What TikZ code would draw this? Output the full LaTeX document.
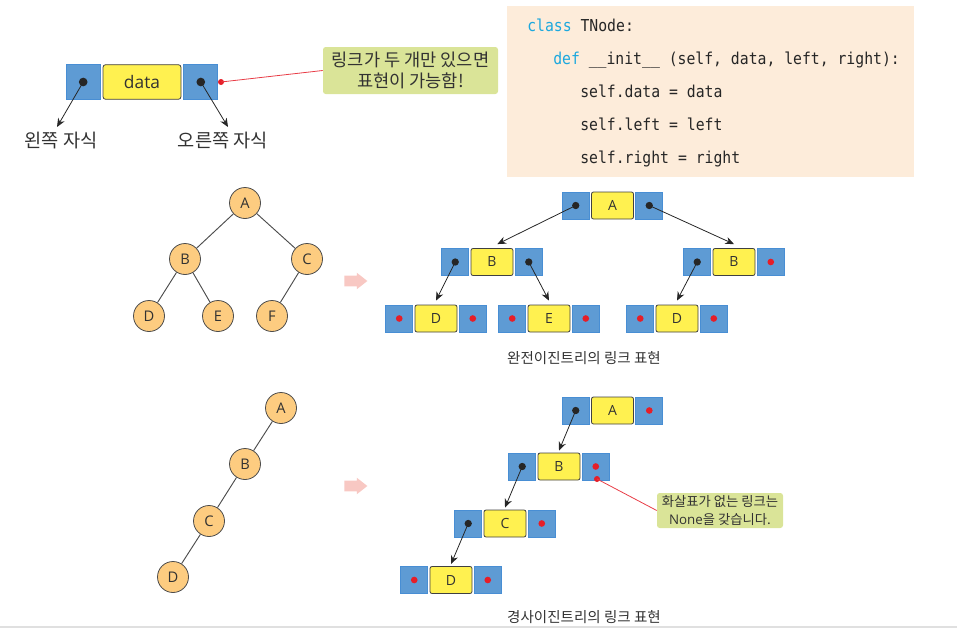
\documentclass[tikz,border=0pt]{standalone}
\usepackage{fontspec}
\setmainfont{Noto Sans CJK KR}
\newfontfamily\lat{Open Sans}
\newfontfamily\codef[FakeStretch=0.9]{DejaVu Sans Mono}
\usetikzlibrary{arrows.meta,shapes.arrows}
\definecolor{bfill}{RGB}{94,155,212}
\definecolor{bline}{RGB}{72,142,212}
\definecolor{yfill}{RGB}{255,241,80}
\definecolor{cfill}{RGB}{253,204,128}
\definecolor{codebg}{RGB}{253,236,218}
\definecolor{codekw}{RGB}{28,168,222}
\definecolor{calfill}{RGB}{218,228,152}
\definecolor{redc}{RGB}{230,30,40}
\definecolor{redl}{RGB}{232,60,70}
\definecolor{pinka}{RGB}{248,200,195}
\definecolor{txt}{RGB}{50,50,50}
\newcommand{\lnode}[5]{%
  \node[ybox] (#1) at (#2) {#3};
  \node[bbox, anchor=east] (#1L) at ([xshift=-1.1pt]#1.west) {};
  \node[bbox, anchor=west] (#1R) at ([xshift=1.1pt]#1.east) {};
  \node[#4] (#1Ld) at (#1L.center) {};
  \node[#5] (#1Rd) at (#1R.center) {};
}
\begin{document}
\begin{tikzpicture}[x=0.75pt,y=-0.75pt,
  bbox/.style={draw=bline, fill=bfill, minimum width=20.25pt, minimum height=20.25pt, inner sep=0pt, line width=0.6pt},
  ybox/.style={draw=black!75, fill=yfill, rounded corners=1.5pt, minimum width=31.5pt, minimum height=20.25pt, inner sep=0pt, font=\lat\fontsize{10.5}{12}\selectfont, text=txt, line width=0.6pt},
  bdot/.style={circle, fill=black!85, minimum size=5.5pt, inner sep=0pt},
  rdot/.style={circle, fill=redc, minimum size=5pt, inner sep=0pt},
  tn/.style={circle, draw=black!70, fill=cfill, minimum size=23.25pt, inner sep=0pt, font=\lat\fontsize{11}{12}\selectfont, text=txt, line width=0.6pt},
  link/.style={-{Stealth[length=6.5pt,width=5.5pt]}, black!85, line width=0.6pt},
  tedge/.style={black!70, line width=0.7pt},
  callout/.style={fill=calfill, rounded corners=2pt, align=center, text=txt, inner sep=0pt},
  redline/.style={redl, line width=0.6pt},
  pink/.style={single arrow, fill=pinka, inner xsep=0pt, inner ysep=3.75pt, single arrow head extend=2.25pt, minimum height=17.25pt, single arrow tip angle=76},
  codetext/.style={anchor=base west, font=\codef\fontsize{12.3}{14}\selectfont, text=black!85, inner sep=0pt},
  captext/.style={font=\fontsize{10.9}{12}\selectfont, text=txt},
  lbl/.style={font=\fontsize{14}{16}\selectfont, text=txt},
]
\useasboundingbox (0,0) rectangle (957,628);
\fill[black!12] (0,626) rectangle (957,628);

% ---- top: structure of a node
\node[draw=black!75, fill=yfill, rounded corners=2pt, minimum width=58.5pt, minimum height=26pt, inner sep=0pt, font=\lat\fontsize{13}{15}\selectfont, text=txt, line width=0.6pt] (T) at (142,82) {data};
\node[bbox, minimum width=25.5pt, minimum height=26pt, anchor=east] (TL) at ([xshift=-1.5pt]T.west) {};
\node[bbox, minimum width=25.5pt, minimum height=26pt, anchor=west] (TR) at ([xshift=1.5pt]T.east) {};
\node[bdot, minimum size=6.5pt] (TLd) at (TL.center) {};
\node[bdot, minimum size=6.5pt] (TRd) at (TR.center) {};
\coordinate (TLt) at (57,127);
\coordinate (TRt) at (228,127);
\draw[link] (TLd.center) -- (TLt);
\draw[link] (TRd.center) -- (TRt);
\node[lbl] (lc) at (61,141) {왼쪽 자식};
\node[lbl] (rc) at (223,141) {오른쪽 자식};
\node[rdot, minimum size=4.5pt] (Tr) at (221,82) {};
\node[callout, minimum width=131.25pt, minimum height=35.25pt, font=\fontsize{13.2}{15.75}\selectfont] (cal1) at (410.5,70.5) {링크가 두 개만 있으면\\표현이 가능함!};
\draw[redline] (Tr.center) -- (cal1.west);

% ---- code box
\node[fill=codebg, minimum width=305.25pt, minimum height=128.25pt, inner sep=0pt] (codebox) at (710.5,91.5) {};
\node[codetext] (c1) at (527,31.5) {\textcolor{codekw}{class} TNode:};
\node[codetext] (c2) at (553,64.5) {\textcolor{codekw}{def} \_\_init\_\_ (self, data, left, right):};
\node[codetext] (c3) at (580,97.5) {self.data = data};
\node[codetext] (c4) at (580,130.5) {self.left = left};
\node[codetext] (c5) at (580,163.5) {self.right = right};

% ---- complete binary tree
\node[tn] (A) at (245,203) {A};
\node[tn] (B) at (185,259) {B};
\node[tn] (C) at (307,259) {C};
\node[tn] (D) at (149,316) {D};
\node[tn] (E) at (218,316) {E};
\node[tn] (F) at (272,316) {F};
\draw[tedge] (A) -- (B);
\draw[tedge] (A) -- (C);
\draw[tedge] (B) -- (D);
\draw[tedge] (B) -- (E);
\draw[tedge] (C) -- (F);
\node[pink] (p1) at (352.5,281) {};

\lnode{mA}{612.5,205.5}{A}{bdot}{bdot}
\lnode{mB}{492,262}{B}{bdot}{bdot}
\lnode{mC}{734,262}{B}{bdot}{rdot}
\lnode{mD}{436,318.5}{D}{rdot}{rdot}
\lnode{mE}{549,318.5}{E}{rdot}{rdot}
\lnode{mF}{677,318.5}{D}{rdot}{rdot}
\draw[link] (mALd.center) -- ([xshift=4pt,yshift=3pt]mB.north);
\draw[link] (mARd.center) -- ([yshift=3pt]mC.north);
\draw[link] (mBLd.center) -- ([yshift=3pt]mD.north);
\draw[link] (mBRd.center) -- ([yshift=3pt]mE.north);
\draw[link] (mCLd.center) -- ([yshift=3pt]mF.north);
\node[captext] (cap1) at (584,358) {완전이진트리의 링크 표현};

% ---- skewed binary tree
\node[tn] (sA) at (281,408) {A};
\node[tn] (sB) at (245,464) {B};
\node[tn] (sC) at (209,521) {C};
\node[tn] (sD) at (173,577) {D};
\draw[tedge] (sA) -- (sB);
\draw[tedge] (sB) -- (sC);
\draw[tedge] (sC) -- (sD);
\node[pink] (p2) at (352.5,486) {};

\lnode{kA}{612.5,410.5}{A}{bdot}{rdot}
\lnode{kB}{559,466.5}{B}{bdot}{rdot}
\lnode{kC}{505,523.5}{C}{bdot}{rdot}
\lnode{kD}{451,580}{D}{rdot}{rdot}
\draw[link] (kALd.center) -- ([yshift=1.5pt]kB.north);
\draw[link] (kBLd.center) -- ([yshift=1.5pt]kC.north);
\draw[link] (kCLd.center) -- ([yshift=1.5pt]kD.north);
\node[rdot, minimum size=4.5pt] (kr) at (597,479) {};
\node[callout, minimum width=94.5pt, minimum height=26.25pt, font=\fontsize{10}{13.5}\selectfont] (cal2) at (720,510.5) {화살표가 없는 링크는\\{\lat None}을 갖습니다.};
\draw[redline] (kr.center) -- (cal2.west);
\node[captext] (cap2) at (584,617) {경사이진트리의 링크 표현};
\end{tikzpicture}
\end{document}
